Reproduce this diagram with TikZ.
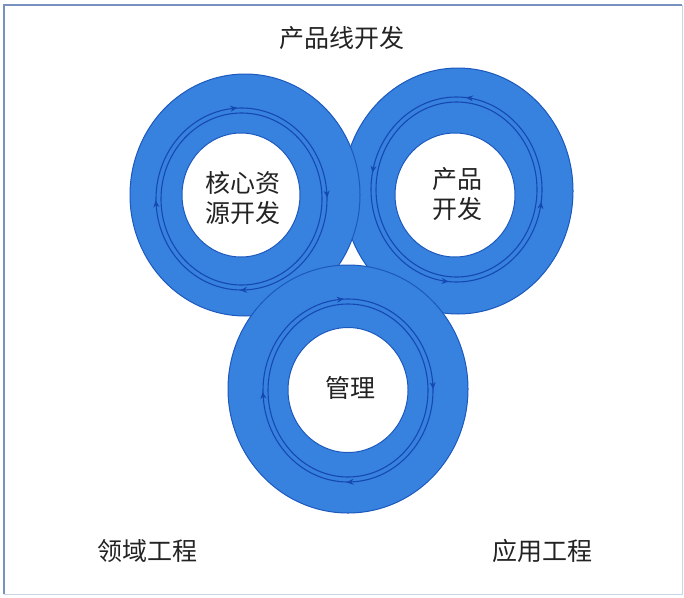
\documentclass[tikz,border=0pt]{standalone}
\usepackage{fontspec}
\usepackage{tikz}
\usetikzlibrary{decorations.markings,arrows.meta}
\newfontfamily\cjk{Noto Sans CJK SC}
\definecolor{ringblue}{RGB}{54,130,222}
\definecolor{ringedge}{RGB}{28,88,190}
\definecolor{loopblue}{RGB}{22,72,180}
\definecolor{framegray}{RGB}{120,145,190}
\definecolor{framelight}{RGB}{200,212,232}
\definecolor{txt}{RGB}{35,35,35}

\tikzset{
  lbl/.style={font=\cjk\fontsize{25}{30}\selectfont,text=txt,align=center,inner sep=0pt},
  ringfill/.style={fill=ringblue,draw=ringedge,line width=1pt},
  hole/.style={fill=white,draw=ringedge,line width=1pt},
  loopline/.style={draw=loopblue,line width=1.1pt},
  clockloop/.style={loopline,postaction={decorate},decoration={markings,
     mark=at position 0.015 with {\arrow{<}},
     mark=at position 0.27 with {\arrow{<}},
     mark=at position 0.515 with {\arrow{<}},
     mark=at position 0.76 with {\arrow{<}}}},
  counterloop/.style={loopline,postaction={decorate},decoration={markings,
     mark=at position 0.233 with {\arrow{>}},
     mark=at position 0.47 with {\arrow{>}},
     mark=at position 0.736 with {\arrow{>}},
     mark=at position 0.978 with {\arrow{>}}}},
  >={Stealth[length=7pt,width=6pt]}
}

\begin{document}
\begin{tikzpicture}[x=1pt,y=-1pt]
\useasboundingbox (0,0) rectangle (684,597);
\draw[framelight,line width=1pt] (682,5) -- (682,594) -- (4,594);
\draw[framegray,line width=2pt] (4,594) -- (4,5) -- (682,5);

% right ring first, then left, bottom one on top
\begin{scope}
\fill[ringfill] (458,191) ellipse [x radius=115pt,y radius=123pt];
\fill[hole] (455,195) ellipse [x radius=60pt,y radius=62pt];
\draw[counterloop] (456.5,189.5) ellipse [x radius=85.5pt,y radius=92.5pt];
\draw[loopline] (456.5,189.5) ellipse [x radius=80.5pt,y radius=87.5pt];
\end{scope}

\begin{scope}
\fill[ringfill] (245,195) ellipse [x radius=115pt,y radius=121pt];
\fill[hole] (241,195) ellipse [x radius=59pt,y radius=62pt];
\draw[clockloop] (241.5,199) ellipse [x radius=85.5pt,y radius=91pt];
\draw[loopline] (241.5,199) ellipse [x radius=80.5pt,y radius=86pt];
\end{scope}

\begin{scope}
\fill[ringfill] (348,389) ellipse [x radius=120pt,y radius=124pt];
\fill[hole] (348,390) ellipse [x radius=60pt,y radius=62.5pt];
\draw[clockloop] (348,390.5) ellipse [x radius=85pt,y radius=91.5pt];
\draw[loopline] (348,390.5) ellipse [x radius=80pt,y radius=86.5pt];
\end{scope}

\node[lbl] (core) at (243,198) {核心资\\源开发};
\node[lbl] (prod) at (457,194) {产品\\开发};
\node[lbl] (mgmt) at (350,388) {管理};
\node[lbl] (pline) at (342,38) {产品线开发};
\node[lbl] (domain) at (147,551) {领域工程};
\node[lbl] (appl) at (542,551) {应用工程};

 \end{tikzpicture}
\end{document}
